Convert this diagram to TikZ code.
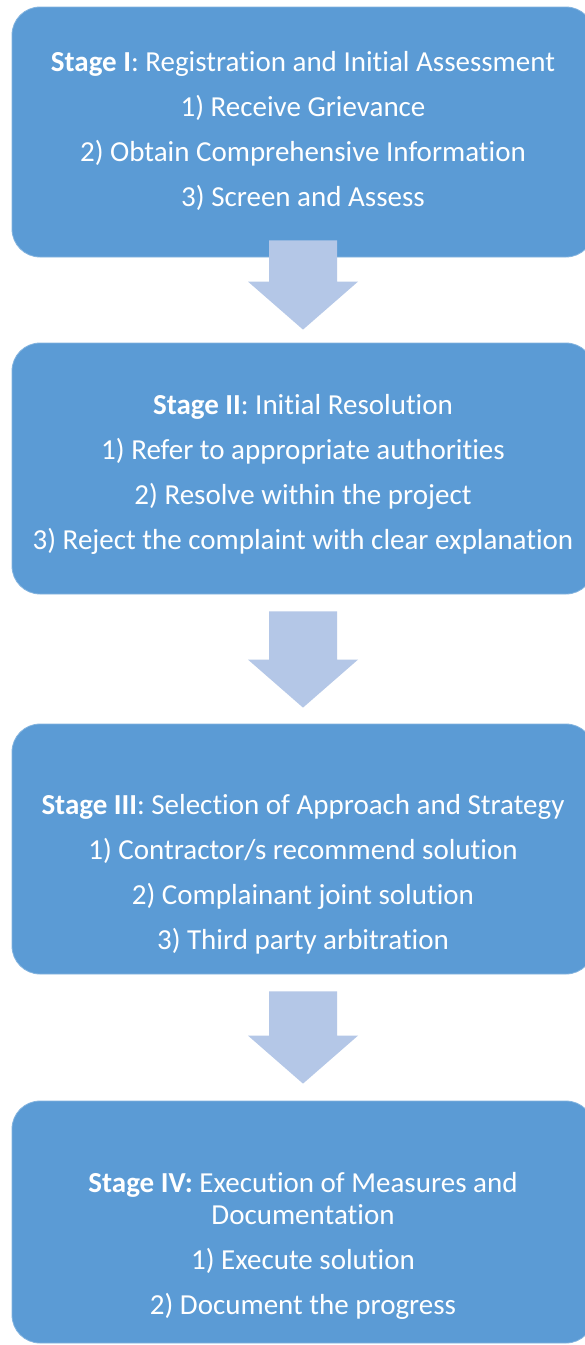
\documentclass[tikz,border=0pt]{standalone}
\usepackage{fontspec}
\setmainfont{Carlito}[Ligatures=NoCommon]
\usetikzlibrary{calc}
\definecolor{stageblue}{HTML}{5B9BD5}
\definecolor{arrowblue}{HTML}{B4C7E7}
\tikzset{
  stagebox/.style={fill=stageblue, draw=stageblue!75!white, line width=0.8pt, rounded corners=28pt, minimum width=582pt, inner sep=0pt},
  stagetext/.style={text=white, align=center, font=\fontsize{29}{45}\selectfont},
  flowarrow/.style={fill=arrowblue}
}
% block arrow: #1 = top of shaft, #2 = tip
\newcommand{\blockarrow}[2]{%
  \fill[flowarrow] ($(#1)+(-34,0)$) -- ($(#1)+(34,0)$) -- ($(#2)+(34,-48)$)
    -- ($(#2)+(55,-48)$) -- (#2) -- ($(#2)+(-55,-48)$) -- ($(#2)+(-34,-48)$) -- cycle;}

\begin{document}
\begin{tikzpicture}[x=1pt,y=-1pt]
\clip (0,0) rectangle (585,1345);
\fill[white] (0,0) rectangle (585,1345);
% stages
\node[stagebox, minimum height=250pt] (s1) at (303,132) {};
\node[stagebox, minimum height=251pt] (s2) at (303,468.5) {};
\node[stagebox, minimum height=250pt] (s3) at (303,849) {};
\node[stagebox, minimum height=242pt] (s4) at (303,1222) {};
\node[stagetext] (t1) at (303,131) {\textbf{Stage I}: Registration and Initial Assessment\\
  1) Receive Grievance\\ 2) Obtain Comprehensive Information\\ 3) Screen and Assess};
\node[stagetext] (t2) at (303,474) {\textbf{Stage II}: Initial Resolution\\
  1) Refer to appropriate authorities\\ 2) Resolve within the project\\
  3) Reject the complaint with clear explanation};
\node[stagetext] (t3) at (303,874) {\textbf{Stage III}: Selection of Approach and Strategy\\
  1) Contractor/s recommend solution\\ 2) Complainant joint solution\\ 3) Third party arbitration};
\node[stagetext] (t4) at (303,1246) {\textbf{Stage IV:} Execution of Measures and\\[-13pt]
  Documentation\\ 1) Execute solution\\ 2) Document the progress};
% arrows between stages
\coordinate (a1) at ($(s1.south)+(0,-17)$);
\coordinate (b1) at ($(s2.north)+(0,-13)$);
\coordinate (a2) at ($(s2.south)+(0,17)$);
\coordinate (b2) at ($(s3.north)+(0,-16)$);
\coordinate (a3) at ($(s3.south)+(0,17)$);
\coordinate (b3) at ($(s4.north)+(0,-17)$);
\blockarrow{a1}{b1}
\blockarrow{a2}{b2}
\blockarrow{a3}{b3}
\end{tikzpicture}
\end{document}
